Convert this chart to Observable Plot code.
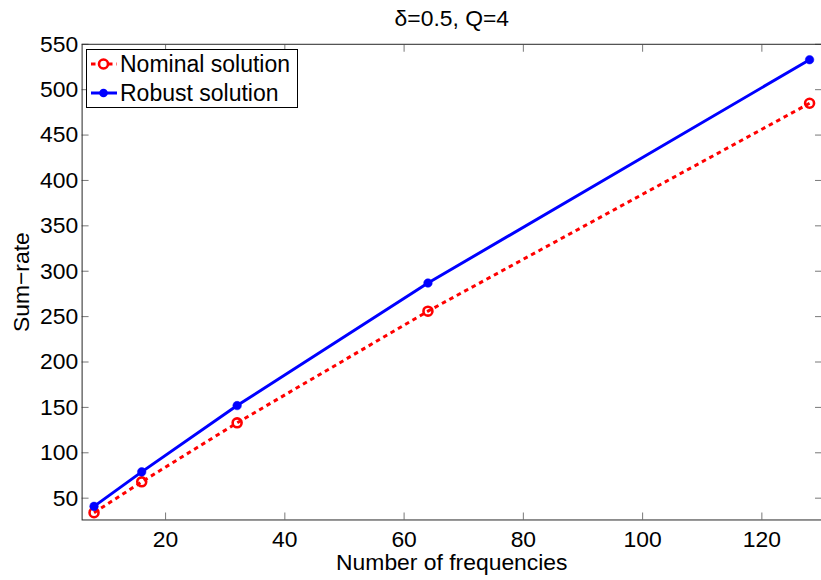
<!DOCTYPE html>
<html>
<head>
<meta charset="utf-8">
<script src="https://cdn.jsdelivr.net/npm/d3@7"></script>
<script src="https://cdn.jsdelivr.net/npm/@observablehq/plot@0.6"></script>
<style>
  html, body { margin: 0; padding: 0; background: white; }
  #wrap { position: relative; width: 821px; height: 580px; overflow: hidden; }
  #legend { position: absolute; left: 86px; top: 49px; }
</style>
</head>
<body>
<div id="wrap"></div>
<script>
const frequencies = [8, 16, 32, 64, 128];
const nominalSolution = [34, 68, 133, 256, 485];
const robustSolution = [41, 79, 152, 287, 533];
const xTicks = [20, 40, 60, 80, 100, 120];
const yTicks = [50, 100, 150, 200, 250, 300, 350, 400, 450, 500, 550];
const seriesNames = ["Nominal solution", "Robust solution"];
const titleText = "δ=0.5, Q=4";
const xLabel = "Number of frequencies";
const yLabel = "Sum\u2212rate";

const nominal = frequencies.map((x, i) => ({x, y: nominalSolution[i]}));
const robust = frequencies.map((x, i) => ({x, y: robustSolution[i]}));

const FONT = "'Liberation Sans', Arial, Helvetica, sans-serif";
const RED = "#ff0000", BLUE = "#0000ff";
const DASH = "4.5,4";

const chart = Plot.plot({
  width: 825,
  height: 580,
  marginLeft: 82,
  marginRight: 0,
  marginTop: 44,
  marginBottom: 58,
  x: {domain: [6, 130]},
  y: {domain: [26, 550]},
  style: {fontFamily: FONT, fontSize: "23px", background: "white", color: "black"},
  marks: [
    // inward ticks
    Plot.axisX({anchor: "bottom", ticks: xTicks, tickSize: -7, text: null, label: null, stroke: "#777"}),
    Plot.axisX({anchor: "top", ticks: xTicks, tickSize: -7, text: null, label: null, stroke: "#777"}),
    Plot.axisY({anchor: "left", ticks: yTicks, tickSize: -7, text: null, label: null, stroke: "#777"}),
    Plot.axisY({anchor: "right", ticks: yTicks, tickSize: -7, text: null, label: null, stroke: "#777"}),
    // labels
    Plot.axisX({anchor: "bottom", ticks: xTicks, tickSize: 0, tickPadding: 11, label: xLabel,
      labelAnchor: "center", labelArrow: "none", labelOffset: 50, fill: "black"}),
    Plot.axisY({anchor: "left", ticks: yTicks, tickSize: 0, tickPadding: 4, label: yLabel,
      labelAnchor: "center", labelArrow: "none", labelOffset: 70, fill: "black"}),
    Plot.frame({stroke: "#262626", strokeWidth: 1}),
    Plot.text([titleText], {frameAnchor: "top", dy: -26, lineAnchor: "middle", fontSize: 23, fill: "black"}),
    // series
    Plot.line(nominal, {x: "x", y: "y", stroke: RED, strokeWidth: 3, strokeDasharray: DASH, strokeLinecap: "butt"}),
    Plot.dot(nominal, {x: "x", y: "y", r: 4.5, stroke: RED, strokeWidth: 2.6, fill: "none"}),
    Plot.line(robust, {x: "x", y: "y", stroke: BLUE, strokeWidth: 3}),
    Plot.dot(robust, {x: "x", y: "y", r: 4.3, fill: BLUE, stroke: BLUE, strokeWidth: 0.5})
  ]
});

const wrap = document.getElementById("wrap");
wrap.appendChild(chart);

// legend
const lw = 212, lh = 59;
const leg = d3.create("svg").attr("id", "legend").attr("width", lw).attr("height", lh)
  .style("font-family", FONT).style("font-size", "23px");
leg.append("rect").attr("x", 0.5).attr("y", 0.5).attr("width", lw - 1).attr("height", lh - 1)
  .attr("fill", "white").attr("stroke", "black").attr("stroke-width", 1);
const rows = [
  {name: seriesNames[0], color: RED, dash: DASH, dot: "open", cy: 15},
  {name: seriesNames[1], color: BLUE, dash: null, dot: "filled", cy: 44}
];
rows.forEach(r => {
  const g = leg.append("g");
  g.append("line").attr("x1", 5).attr("x2", 31).attr("y1", r.cy).attr("y2", r.cy)
    .attr("stroke", r.color).attr("stroke-width", 3).attr("stroke-dasharray", r.dash);
  if (r.dot === "open") {
    g.append("circle").attr("cx", 17.5).attr("cy", r.cy).attr("r", 4.5)
      .attr("fill", "white").attr("stroke", r.color).attr("stroke-width", 2.6);
  } else {
    g.append("circle").attr("cx", 17.5).attr("cy", r.cy).attr("r", 4.3).attr("fill", r.color);
  }
  g.append("text").attr("x", 34).attr("y", r.cy).attr("dy", "0.35em").attr("fill", "black").text(r.name);
});
wrap.appendChild(leg.node());
</script>
</body>
</html>
